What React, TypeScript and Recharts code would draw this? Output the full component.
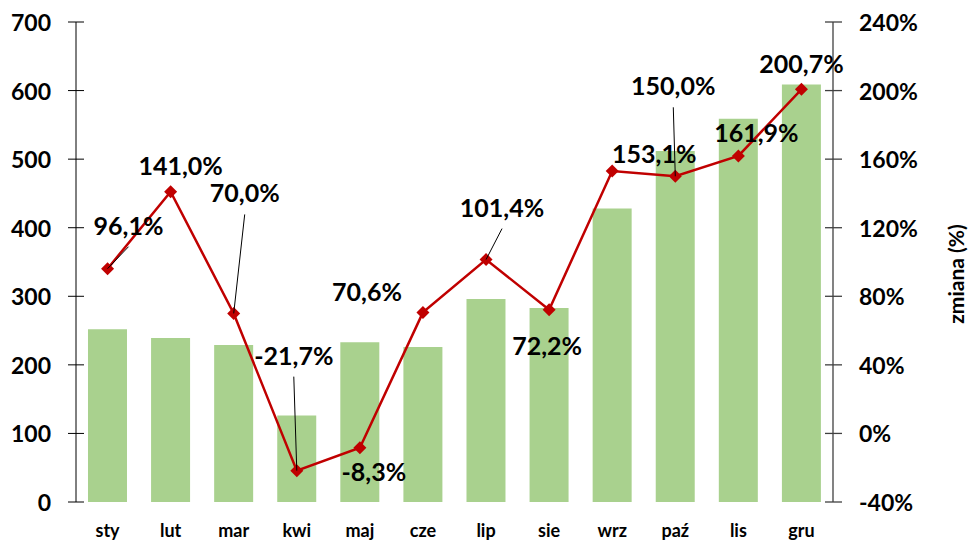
import React from 'react';
import { ComposedChart, Bar, Line, XAxis, YAxis, LabelList, Label } from 'recharts';

const months = ['sty', 'lut', 'mar', 'kwi', 'maj', 'cze', 'lip', 'sie', 'wrz', 'paź', 'lis', 'gru'];
const amounts = [252, 239, 229, 126, 233, 226, 296, 283, 428, 512, 559, 609];
const changes = [96.1, 141.0, 70.0, -21.7, -8.3, 70.6, 101.4, 72.2, 153.1, 150.0, 161.9, 200.7];
const leftTicks = [0, 100, 200, 300, 400, 500, 600, 700];
const rightTicks = [-40, 0, 40, 80, 120, 160, 200, 240];

// label placement (styling): offset of label centre/baseline from its point, and leader lines
const labelDx = [21, 10, 11, -3, 14, -56, 16, -2, 42, -2, 18, 0];
const labelDy = [-34, -17, -111, -106, 33, -11, -43, 45, -8, -81, -14, -16];
const leader = [true, false, true, true, false, false, true, false, false, true, false, false];

const data = months.map((m, i) => ({ month: m, amount: amounts[i], change: changes[i] }));

const FONT = 'Lato, "Open Sans", sans-serif';
const W = 971;
const H = 540;
const LEFT_W = 76;
const RIGHT_W = 138;
const AXIS_R_X = W - RIGHT_W;

const LeftTick = (props: any) => {
  const { y, payload } = props;
  return (
    <g>
      <line x1={LEFT_W - 8} x2={LEFT_W + 8} y1={y} y2={y} stroke="#000" strokeWidth={1} />
      <text x={LEFT_W - 25} y={y + 9} textAnchor="end" fontFamily={FONT} fontWeight={700} fontSize={23} fill="#000">
        {payload.value}
      </text>
    </g>
  );
};

const RightTick = (props: any) => {
  const { y, payload } = props;
  return (
    <g>
      <line x1={AXIS_R_X - 8} x2={AXIS_R_X + 9} y1={y} y2={y} stroke="#404040" strokeWidth={1.3} />
      <text x={AXIS_R_X + 26} y={y + 9} textAnchor="start" fontFamily={FONT} fontWeight={700} fontSize={23} fill="#000">
        {payload.value + '%'}
      </text>
    </g>
  );
};

const XTick = (props: any) => {
  const { x, y, payload } = props;
  return (
    <text x={x} y={y + 35} textAnchor="middle" fontFamily={FONT} fontWeight={700} fontSize={18} fill="#000">
      {payload.value}
    </text>
  );
};

const Diamond = (props: any) => {
  const { cx, cy, index } = props;
  if (cx == null || cy == null) return <g key={'d' + index} />;
  const r = 6.5;
  return (
    <path
      key={'d' + index}
      d={`M${cx},${cy - r} L${cx + r},${cy} L${cx},${cy + r} L${cx - r},${cy} Z`}
      fill="#c00000"
    />
  );
};

const ChangeLabel = (props: any) => {
  const { x, y, index, value } = props;
  if (x == null || y == null) return null;
  const tx = x + labelDx[index];
  const ty = y + labelDy[index];
  const text = Number(value).toFixed(1).replace('.', ',') + '%';
  return (
    <g>
      {leader[index] && (
        <line x1={tx} y1={ty + 12} x2={x} y2={y} stroke="#000" strokeWidth={1} />
      )}
      <text x={tx} y={ty} textAnchor="middle" fontFamily={FONT} fontWeight={700} fontSize={25} fill="#000">
        {text}
      </text>
    </g>
  );
};

const RightTitle = () => {
  const x = 964;
  const y = 274;
  return (
    <text
      x={x}
      y={y}
      transform={`rotate(-90 ${x} ${y})`}
      textAnchor="middle"
      fontFamily={FONT}
      fontWeight={700}
      fontSize={21}
      fill="#000"
    >
      zmiana (%)
    </text>
  );
};

export default function App() {
  return (
    <div style={{ position: 'absolute', left: 0, top: 0, width: W, height: H, background: '#fff' }}>
      <ComposedChart
        width={W}
        height={H}
        data={data}
        margin={{ top: 22, right: 0, bottom: 0, left: 0 }}
        barCategoryGap="19%"
      >
        <XAxis
          dataKey="month"
          height={38}
          axisLine={false}
          tickLine={false}
          tickSize={0}
          tickMargin={0}
          tick={<XTick />}
          interval={0}
        />
        <YAxis
          yAxisId="left"
          orientation="left"
          width={LEFT_W}
          domain={[0, 700]}
          ticks={leftTicks}
          axisLine={{ stroke: '#000', strokeWidth: 1 }}
          tickLine={false}
          tickSize={0}
          tickMargin={0}
          tick={<LeftTick />}
          interval={0}
        />
        <YAxis
          yAxisId="right"
          orientation="right"
          width={RIGHT_W}
          domain={[-40, 240]}
          ticks={rightTicks}
          axisLine={{ stroke: '#404040', strokeWidth: 1.3 }}
          tickLine={false}
          tickSize={0}
          tickMargin={0}
          tick={<RightTick />}
          interval={0}
        >
          <Label content={<RightTitle />} />
        </YAxis>
        <Bar yAxisId="left" dataKey="amount" fill="#a9d18e" isAnimationActive={false} />
        <Line
          yAxisId="right"
          dataKey="change"
          stroke="#c00000"
          strokeWidth={2.5}
          dot={Diamond}
          activeDot={false}
          isAnimationActive={false}
        >
          <LabelList dataKey="change" content={ChangeLabel} />
        </Line>
      </ComposedChart>
    </div>
  );
}
